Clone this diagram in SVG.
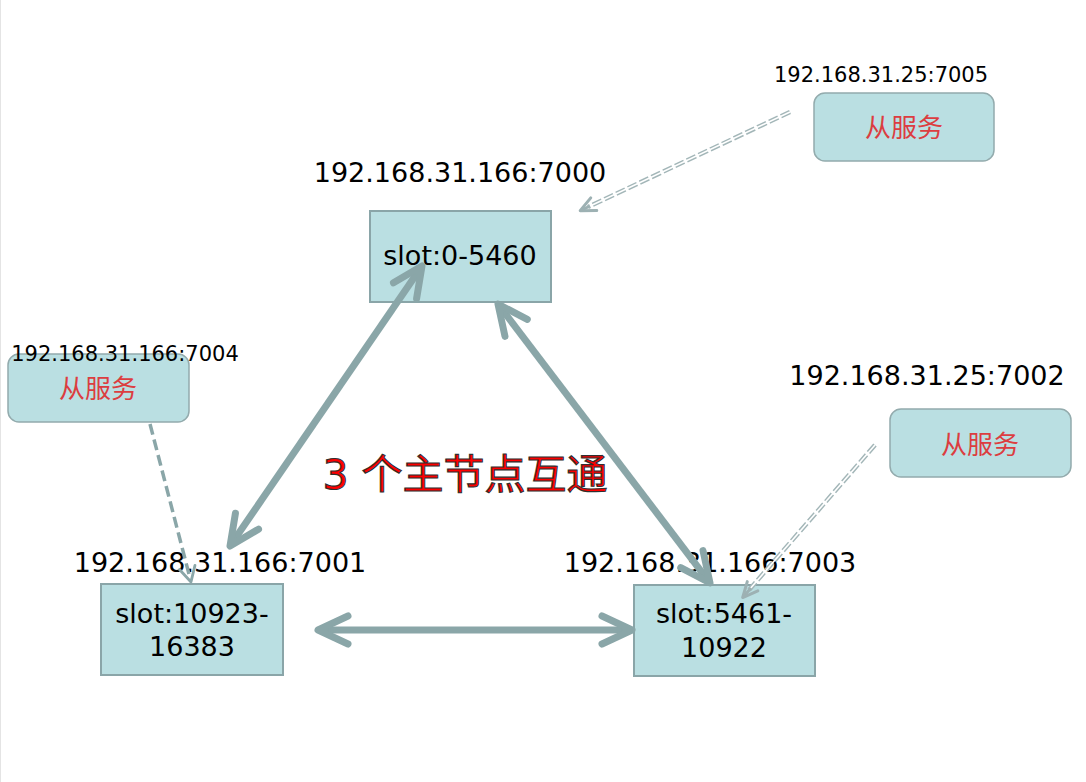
<svg xmlns="http://www.w3.org/2000/svg" width="1086" height="782" viewBox="0 0 1086 782">
<defs>
<style>
.master{fill:#badfe2;stroke:#8aa5a8;stroke-width:2}
.slave{fill:#badfe2;stroke:#93abad;stroke-width:1.5}
.lbl{font-family:"DejaVu Sans","Noto Sans CJK SC",sans-serif;font-size:27px;fill:#000;text-anchor:middle}
.lbls{font-family:"DejaVu Sans","Noto Sans CJK SC",sans-serif;font-size:21px;fill:#000;text-anchor:middle}
.slv{font-family:"Noto Sans CJK SC","DejaVu Sans",sans-serif;font-size:26px;fill:#dc3d40;text-anchor:middle}
.thick{stroke:#8aa6a8;stroke-width:7;fill:none;marker-start:url(#chev);marker-end:url(#chev)}
.dash{stroke:#8aa6a8;stroke-width:3.5;fill:none;stroke-dasharray:11 5;marker-end:url(#small)}
.dbl{stroke:#a3b6b8;stroke-width:4.5;fill:none;stroke-dasharray:10 3}
.dblw{stroke:#fff;stroke-width:1.6;fill:none}
.title{font-family:"DejaVu Sans","Noto Sans CJK SC",sans-serif;font-size:41px;fill:#ff0000;stroke:#303030;stroke-width:1.1;text-anchor:middle}
</style>
<marker id="chev" markerUnits="userSpaceOnUse" markerWidth="50" markerHeight="50" viewBox="-40 -25 50 50" refX="0" refY="0" orient="auto-start-reverse">
<path d="M-27,-14 L3,0 L-27,14" fill="none" stroke="#8aa6a8" stroke-width="7" stroke-linecap="round" stroke-linejoin="round"/>
</marker>
<marker id="small" markerUnits="userSpaceOnUse" markerWidth="30" markerHeight="30" viewBox="-20 -15 30 30" refX="0" refY="0" orient="auto">
<path d="M-13,-8 L2,0 L-13,8" fill="none" stroke="#8aa6a8" stroke-width="2.8" stroke-linecap="round" stroke-linejoin="round"/>
</marker>
<marker id="smallg" markerUnits="userSpaceOnUse" markerWidth="30" markerHeight="30" viewBox="-20 -15 30 30" refX="0" refY="0" orient="auto">
<path d="M-13,-7 L2,0 L-13,7" fill="none" stroke="#9db1b3" stroke-width="3" stroke-linecap="round" stroke-linejoin="round"/>
</marker>
</defs>
<rect x="0" y="0" width="1086" height="782" fill="#fff"/>
<line x1="0.5" y1="0" x2="0.5" y2="782" stroke="#e4e4e4" stroke-width="1"/>

<g id="m7000">
<text class="lbl" x="460" y="182">192.168.31.166:7000</text>
<rect class="master" x="370" y="211" width="181" height="91"/>
<text class="lbl" x="460" y="265">slot:0-5460</text>
</g>
<g id="m7001">
<text class="lbl" x="220" y="572">192.168.31.166:7001</text>
<rect class="master" x="101" y="584" width="182" height="91"/>
<text class="lbl" x="192" y="623">slot:10923-</text>
<text class="lbl" x="192" y="656">16383</text>
</g>
<g id="m7003">
<text class="lbl" x="710" y="572">192.168.31.166:7003</text>
<rect class="master" x="634" y="585" width="181" height="91"/>
<text class="lbl" x="724" y="623">slot:5461-</text>
<text class="lbl" x="724" y="657">10922</text>
</g>
<g id="s7005">
<rect class="slave" x="814" y="93" width="180" height="68" rx="11"/>
<text class="lbls" x="881" y="82">192.168.31.25:7005</text>
<text class="slv" x="904" y="137">从服务</text>
</g>
<g id="s7004">
<rect class="slave" x="8" y="354" width="181" height="68" rx="11"/>
<text class="lbls" x="125" y="361">192.168.31.166:7004</text>
<text class="slv" x="98" y="398">从服务</text>
</g>
<g id="s7002">
<rect class="slave" x="890" y="409" width="181" height="68" rx="11"/>
<text class="lbl" x="927" y="385">192.168.31.25:7002</text>
<text class="slv" x="980" y="454">从服务</text>
</g>

<g id="connectors">
<line class="thick" x1="420.3" y1="268.5" x2="231.7" y2="543.5"/>
<line class="thick" x1="499.8" y1="306.4" x2="708.2" y2="580.6"/>
<line class="thick" x1="321" y1="630" x2="629" y2="630"/>
<line class="dash" x1="150" y1="424" x2="190.5" y2="580"/>
<g id="c7005">
<line class="dbl" x1="790" y1="112" x2="588" y2="207"/>
<line class="dblw" x1="790" y1="112" x2="588" y2="207"/>
<line x1="590" y1="206" x2="582" y2="209.8" stroke="#9db1b3" stroke-width="3" marker-end="url(#smallg)"/>
</g>
<g id="c7002">
<line class="dbl" x1="875" y1="445" x2="749" y2="590"/>
<line class="dblw" x1="875" y1="445" x2="749" y2="590"/>
<line x1="751" y1="588" x2="744" y2="596" stroke="#9db1b3" stroke-width="3" marker-end="url(#smallg)"/>
</g>
</g>

<g id="title">
<text class="title" x="465" y="489">3 个主节点互通</text>
</g>
</svg>
